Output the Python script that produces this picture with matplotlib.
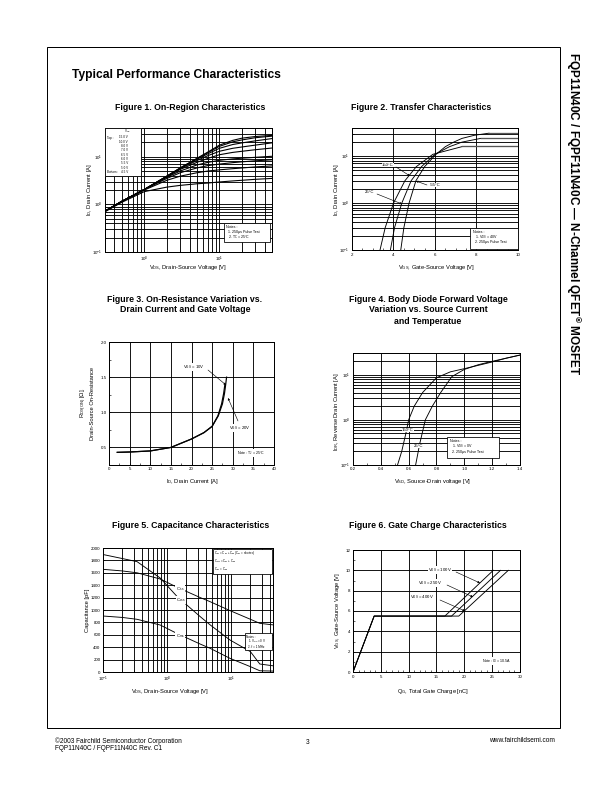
import matplotlib
matplotlib.use('Agg')
import matplotlib.pyplot as plt
import matplotlib.ticker as mt
from matplotlib.patches import Rectangle

plt.rcParams['font.family'] = ['Liberation Sans', 'DejaVu Sans']
plt.rcParams['mathtext.fontset'] = 'custom'
plt.rcParams['mathtext.rm'] = 'Liberation Sans'
plt.rcParams['mathtext.it'] = 'Liberation Sans'
plt.rcParams['mathtext.bf'] = 'Liberation Sans:bold'
plt.rcParams['mathtext.default'] = 'regular'

# ---------------- data ----------------
# Figure 1: On-region characteristics (ID vs VDS for several VGS)
f1_vds = [0.3, 0.5, 1, 2, 3, 5, 7, 10, 15, 20, 30, 50]
f1_vgs_labels = ['15.0 V', '10.0 V', '8.0 V', '7.0 V', '6.5 V', '6.0 V', '5.5 V', '5.0 V', '4.5 V']
f1_id_15v = [0.72, 1.15, 2.05, 3.9, 5.8, 9.2, 12.5, 17.5, 22.0, 24.5, 26.5, 28.0]
f1_id_10v = [0.72, 1.15, 2.05, 3.9, 5.8, 9.1, 12.2, 16.5, 20.5, 22.5, 25.0, 27.0]
f1_id_8v = [0.72, 1.15, 2.05, 3.9, 5.7, 8.8, 11.5, 15.0, 18.0, 19.5, 21.5, 24.0]
f1_id_7v = [0.72, 1.15, 2.05, 3.9, 5.6, 8.3, 10.5, 13.0, 15.0, 16.0, 17.5, 19.5]
f1_id_6v5 = [0.72, 1.15, 2.05, 3.8, 5.4, 7.6, 9.2, 11.0, 12.3, 13.0, 14.0, 15.2]
f1_id_6v = [0.72, 1.15, 2.05, 3.7, 5.0, 6.7, 7.6, 8.4, 9.0, 9.3, 9.7, 10.2]
f1_id_5v5 = [0.72, 1.15, 2.05, 3.5, 4.6, 5.8, 6.5, 7.0, 7.5, 7.8, 8.2, 8.6]
f1_id_5v = [0.72, 1.15, 2.0, 3.2, 3.9, 4.6, 5.0, 5.3, 5.6, 5.8, 6.1, 6.4]
f1_id_4v5 = [0.70, 1.10, 1.85, 2.3, 2.5, 2.7, 2.8, 2.95, 3.1, 3.2, 3.35, 3.5]

# Figure 2: Transfer characteristics (ID vs VGS)
f2_id = [0.1, 0.3, 1, 3, 6, 11, 16, 20, 24, 28, 31]
f2_vgs_150c = [3.35, 3.6, 4.0, 4.55, 5.1, 5.9, 7.3, None, None, None, None]
f2_vgs_25c = [3.85, 4.05, 4.4, 4.85, 5.35, 6.0, 6.7, 7.3, 8.2, None, None]
f2_vgs_m55c = [4.35, 4.5, 4.75, 5.08, 5.5, 6.05, 6.5, 6.9, 7.3, 7.9, 8.6]
f2_flat_150c = [16.5, 16.5]
f2_flat_25c = [24.5, 24.5]
f2_flat_m55c = [31.0, 31.0]
f2_flat_start = [7.3, 8.2, 8.6]

# Figure 3: On-resistance vs drain current
f3_id = [2, 5, 10, 15, 20, 23, 25, 26.5, 27.5, 28.0, 28.3, 28.5]
f3_rds_10v = [0.43, 0.435, 0.45, 0.5, 0.62, 0.71, 0.8, 0.95, 1.12, 1.27, 1.4, 1.5]
f3_id_20v = [2, 5, 10, 15, 20, 23, 25, 26.4, 27.3, 27.8, 28.1]
f3_rds_20v = [0.43, 0.435, 0.45, 0.5, 0.62, 0.71, 0.8, 0.95, 1.12, 1.27, 1.4]

# Figure 4: Body diode forward voltage
f4_vsd_150c = [0.52, 0.55, 0.58, 0.60, 0.64, 0.70, 0.80, 0.90, 1.00, 1.10, 1.20, 1.30, 1.40]
f4_isd_150c = [0.1, 0.2, 0.5, 1.0, 2.0, 4.0, 8.5, 11.5, 13.5, 16.0, 19.0, 23.0, 27.0]
f4_vsd_25c = [0.65, 0.68, 0.72, 0.77, 0.83, 0.91, 1.00, 1.10, 1.18, 1.30, 1.40]
f4_isd_25c = [0.1, 0.3, 1.0, 2.0, 4.0, 9.0, 13.0, 16.5, 19.0, 23.0, 27.0]

# Figure 5: Capacitance characteristics
f5_vds = [0.1, 0.2, 0.34, 0.78, 1.44, 3.3, 4.7, 9.6, 20, 28, 45]
f5_ciss = [1656, 1630, 1600, 1500, 1366, 1200, 1134, 990, 850, 785, 760]
f5_coss = [1895, 1830, 1780, 1516, 1215, 892, 760, 516, 328, 129, 100]
f5_crss = [903, 880, 850, 758, 620, 450, 382, 220, 86, 20, 15]

# Figure 6: Gate charge characteristics
f6_qg_100v = [0, 3.8, 16.5, 25.2]
f6_qg_250v = [0, 3.8, 17.7, 26.5]
f6_qg_400v = [0, 3.8, 19.0, 27.9]
f6_vgs = [0, 5.5, 5.5, 10.0]

# ---------------- layout helpers ----------------
W, H = 612, 792
fig = plt.figure(figsize=(W / 72, H / 72), dpi=72)

TITLE_FS = 8.8
LABEL_FS = 5.8
TICK_FS = 4.4
ANN_FS = 4.2
NOTE_FS = 3.6


def px_axes(box):
    x0, y0, x1, y1 = box
    return fig.add_axes([x0 / W, 1 - y1 / H, (x1 - x0) / W, (y1 - y0) / H])


def ftext(x, y, s, **kw):
    fig.text(x / W, 1 - y / H, s, **kw)


def pt(box, x, y):
    x0, y0, x1, y1 = box
    return ((x - x0) / (x1 - x0), (y1 - y) / (y1 - y0))


def style(ax):
    ax.tick_params(which='both', direction='in', labelsize=TICK_FS, length=2,
                   width=0.6, pad=2.5, top=False, right=False)
    for s in ax.spines.values():
        s.set_linewidth(1.0)
    ax.set_axisbelow(False)


def grid(ax, which_x, which_y):
    if which_x:
        ax.xaxis.grid(True, which=which_x, color='k', lw=0.9)
    if which_y:
        ax.yaxis.grid(True, which=which_y, color='k', lw=0.9)


def box_text(ax, box, rect, lines, fs=NOTE_FS):
    xl, yt, xr, yb = rect
    p0 = pt(box, xl, yb)
    p1 = pt(box, xr, yt)
    ax.add_patch(Rectangle(p0, p1[0] - p0[0], p1[1] - p0[1], transform=ax.transAxes,
                           facecolor='white', edgecolor='k', lw=0.8, zorder=5, clip_on=False))
    for item in lines:
        x, y, s = item[:3]
        ha = item[3] if len(item) > 3 else 'left'
        ax.text(*pt(box, x, y), s, transform=ax.transAxes, fontsize=fs, va='center',
                ha=ha, zorder=6)


def arrow(ax, box, frm, to):
    ax.annotate('', xy=pt(box, *to), xytext=pt(box, *frm), xycoords='axes fraction',
                textcoords='axes fraction',
                arrowprops=dict(arrowstyle='-|>', lw=0.6, color='k', mutation_scale=4,
                                shrinkA=0, shrinkB=0), zorder=7)


def label(ax, box, x, y, s, fs=ANN_FS, bg=True):
    t = ax.text(*pt(box, x, y), s, transform=ax.transAxes, fontsize=fs, va='center',
                ha='center', zorder=6)
    if bg:
        t.set_bbox(dict(facecolor='white', edgecolor='none', pad=0.3))


# ---------------- page decorations ----------------
fig.patches.append(Rectangle((47 / W, 1 - 728 / H), (560 - 47) / W, (728 - 47) / H,
                             transform=fig.transFigure, fill=False, edgecolor='k', lw=1.0))
ftext(72, 75, 'Typical Performance Characteristics', fontsize=12, fontweight='bold',
      va='center', ha='left')
ftext(573, 52, 'FQP11N40C / FQPF11N40C \u2014 N-Channel QFET$^{\u00ae}$ MOSFET',
      fontsize=11.7, fontweight='bold', rotation=-90, va='top', ha='center')
ftext(55, 741, '\u00a92003 Fairchild Semiconductor Corporation', fontsize=6.5, va='center')
ftext(55, 749, 'FQP11N40C / FQPF11N40C Rev. C1', fontsize=6.5, va='center')
ftext(308, 742, '3', fontsize=6.5, va='center', ha='center')
ftext(555, 741, 'www.fairchildsemi.com', fontsize=6.5, va='center', ha='right')

# ---------------- Figure 1 ----------------
b1 = (105, 128, 272, 252)
ax1 = px_axes(b1)
style(ax1)
ax1.set_xscale('log')
ax1.set_yscale('log')
ax1.set_xlim(0.3, 50)
ax1.set_ylim(0.1, 40)
ax1.xaxis.set_minor_formatter(mt.NullFormatter())
ax1.yaxis.set_minor_formatter(mt.NullFormatter())
grid(ax1, 'both', 'both')
for ys in [f1_id_15v, f1_id_10v, f1_id_8v, f1_id_7v, f1_id_6v5, f1_id_6v, f1_id_5v5,
           f1_id_5v, f1_id_4v5]:
    ax1.plot(f1_vds, ys, color='k', lw=1.1, zorder=3)
ftext(190, 108, 'Figure 1. On-Region Characteristics', fontsize=TITLE_FS, fontweight='bold',
      ha='center', va='center')
ftext(90, 190, 'I$_D$, Drain Current [A]', fontsize=LABEL_FS, rotation=90, ha='center', va='center')
ftext(188, 268, 'V$_{DS}$, Drain-Source Voltage [V]', fontsize=LABEL_FS, ha='center', va='center')
leg_lines = [(127, 131.5, 'V$_{GS}$', 'center')]
for i, s in enumerate(f1_vgs_labels):
    y = 137.5 + i * 4.3
    leg_lines.append((128, y, s, 'right'))
leg_lines.append((107, 137.5, 'Top :'))
leg_lines.append((107, 137.5 + 8 * 4.3, 'Bottom :'))
box_text(ax1, b1, (105, 128, 141, 176), leg_lines, fs=3.0)
box_text(ax1, b1, (224, 223, 270, 242),
         [(226.5, 227.5, 'Notes :'), (228, 232.5, '1. 250\u03bcs Pulse Test'),
          (228, 237.5, '2. T$_C$ = 25\u00b0C')])

# ---------------- Figure 2 ----------------
b2 = (352, 128, 518, 250)
ax2 = px_axes(b2)
style(ax2)
ax2.set_yscale('log')
ax2.set_xlim(2, 10)
ax2.set_ylim(0.1, 40)
ax2.set_xticks([2, 4, 6, 8, 10])
ax2.xaxis.set_minor_locator(mt.MultipleLocator(0.5))
ax2.yaxis.set_minor_formatter(mt.NullFormatter())
grid(ax2, 'major', 'both')
for vg, flat, x0 in [(f2_vgs_150c, f2_flat_150c, f2_flat_start[0]),
                     (f2_vgs_25c, f2_flat_25c, f2_flat_start[1]),
                     (f2_vgs_m55c, f2_flat_m55c, f2_flat_start[2])]:
    xs = [v for v in vg if v is not None]
    ys = [i for v, i in zip(vg, f2_id) if v is not None]
    ax2.plot(xs, ys, color='k', lw=0.9, zorder=3)
    ax2.plot([x0, 10], flat, color='#555555', lw=1.3, zorder=3)
ftext(421, 108, 'Figure 2. Transfer Characteristics', fontsize=TITLE_FS, fontweight='bold',
      ha='center', va='center')
ftext(336, 190, 'I$_D$, Drain Current [A]', fontsize=LABEL_FS, rotation=90, ha='center', va='center')
ftext(437, 268, 'V$_{GS}$, Gate-Source Voltage [V]', fontsize=LABEL_FS, ha='center', va='center')
label(ax2, b2, 388, 165, '150\u00b0C')
arrow(ax2, b2, (396, 167), (410, 176))
label(ax2, b2, 370, 192, '25\u00b0C')
arrow(ax2, b2, (377, 194), (402, 204))
label(ax2, b2, 435, 185, '-55\u00b0C')
arrow(ax2, b2, (427, 185), (416, 181))
box_text(ax2, b2, (470, 228, 518, 249),
         [(473, 232, 'Notes :'), (475, 237, '1. V$_{DS}$ = 40V'),
          (475, 242.5, '2. 250\u03bcs Pulse Test')])

# ---------------- Figure 3 ----------------
b3 = (109, 342, 274, 465)
ax3 = px_axes(b3)
style(ax3)
ax3.set_xlim(0, 40)
ax3.set_ylim(0.25, 2.0)
ax3.set_xticks(range(0, 45, 5))
ax3.set_yticks([0.5, 1.0, 1.5, 2.0])
ax3.yaxis.set_major_formatter(mt.FormatStrFormatter('%.1f'))
ax3.xaxis.set_minor_locator(mt.MultipleLocator(2.5))
ax3.yaxis.set_minor_locator(mt.MultipleLocator(0.25))
grid(ax3, 'major', 'major')
ax3.plot(f3_id, f3_rds_10v, color='k', lw=1.2, zorder=3)
ax3.plot(f3_id_20v, f3_rds_20v, color='k', lw=1.2, zorder=3)
ftext(185, 299, 'Figure 3. On-Resistance Variation vs.', fontsize=TITLE_FS, fontweight='bold',
      ha='center', va='center')
ftext(185, 310, 'Drain Current and Gate Voltage', fontsize=TITLE_FS, fontweight='bold',
      ha='center', va='center')
ftext(84, 403, 'R$_{DS(ON)}$ [\u03a9],', fontsize=LABEL_FS, rotation=90, ha='center', va='center')
ftext(92, 403, 'Drain-Source On-Resistance', fontsize=LABEL_FS, rotation=90, ha='center', va='center')
ftext(192, 482, 'I$_D$, Drain Current [A]', fontsize=LABEL_FS, ha='center', va='center')
label(ax3, b3, 194, 367, 'V$_{GS}$ = 10V')
arrow(ax3, b3, (208, 370), (226, 385))
label(ax3, b3, 240, 428, 'V$_{GS}$ = 20V')
arrow(ax3, b3, (238, 421), (228, 398))
label(ax3, b3, 251, 453, 'Note : T$_J$ = 25\u00b0C', fs=NOTE_FS)

# ---------------- Figure 4 ----------------
b4 = (353, 353, 520, 465)
ax4 = px_axes(b4)
style(ax4)
ax4.set_yscale('log')
ax4.set_xlim(0.2, 1.4)
ax4.set_ylim(0.1, 30)
ax4.set_xticks([0.2, 0.4, 0.6, 0.8, 1.0, 1.2, 1.4])
ax4.xaxis.set_major_formatter(mt.FormatStrFormatter('%.1f'))
ax4.xaxis.set_minor_locator(mt.MultipleLocator(0.1))
ax4.yaxis.set_minor_formatter(mt.NullFormatter())
grid(ax4, 'major', 'both')
ax4.plot(f4_vsd_150c, f4_isd_150c, color='k', lw=0.9, zorder=3)
ax4.plot(f4_vsd_25c, f4_isd_25c, color='k', lw=0.9, zorder=3)
ftext(428, 299, 'Figure 4. Body Diode Forward Voltage', fontsize=TITLE_FS, fontweight='bold',
      ha='center', va='center')
ftext(428, 310, 'Variation vs. Source Current', fontsize=TITLE_FS, fontweight='bold',
      ha='center', va='center')
ftext(428, 321, 'and Temperatue', fontsize=TITLE_FS, fontweight='bold', ha='center', va='center')
ftext(336, 412, 'I$_{DR}$, Reverse Drain Current [A]', fontsize=LABEL_FS, rotation=90,
      ha='center', va='center')
ftext(433, 482, 'V$_{SD}$, Source-Drain voltage [V]', fontsize=LABEL_FS, ha='center', va='center')
label(ax4, b4, 408, 430, '150\u00b0C')
label(ax4, b4, 419, 446, '25\u00b0C')
box_text(ax4, b4, (447, 437, 499, 458),
         [(450, 441, 'Notes :'), (452, 446.5, '1. V$_{GS}$ = 0V'),
          (452, 452, '2. 250\u03bcs Pulse Test')])

# ---------------- Figure 5 ----------------
b5 = (103, 548, 273, 672)
ax5 = px_axes(b5)
style(ax5)
ax5.set_xscale('log')
ax5.set_xlim(0.1, 45)
ax5.set_ylim(0, 2000)
ax5.set_yticks(range(0, 2200, 200))
ax5.xaxis.set_minor_formatter(mt.NullFormatter())
grid(ax5, 'both', 'major')
ax5.plot(f5_vds, f5_ciss, color='k', lw=0.9, zorder=3)
ax5.plot(f5_vds, f5_coss, color='k', lw=0.9, zorder=3)
ax5.plot(f5_vds, f5_crss, color='k', lw=0.9, zorder=3)
ftext(191, 525, 'Figure 5. Capacitance Characteristics', fontsize=TITLE_FS, fontweight='bold',
      ha='center', va='center')
ftext(87, 610, 'Capacitance [pF]', fontsize=LABEL_FS, rotation=90, ha='center', va='center')
ftext(170, 692, 'V$_{DS}$, Drain-Source Voltage [V]', fontsize=LABEL_FS, ha='center', va='center')
label(ax5, b5, 180, 589, 'C$_{iss}$')
label(ax5, b5, 181, 600, 'C$_{oss}$')
label(ax5, b5, 180, 636, 'C$_{rss}$')
box_text(ax5, b5, (213, 549, 272, 574),
         [(214.5, 553, 'C$_{iss}$ = C$_{gs}$ + C$_{gd}$ (C$_{ds}$ = shorted)'),
          (214.5, 561, 'C$_{oss}$ = C$_{ds}$ + C$_{gd}$'),
          (214.5, 569, 'C$_{rss}$ = C$_{gd}$')], fs=2.9)
box_text(ax5, b5, (245, 633, 272, 650),
         [(246.5, 636.5, 'Notes :'), (247.5, 641.5, '1. V$_{GS}$ = 0 V'),
          (247.5, 646.5, '2. f = 1 MHz')], fs=3.0)

# ---------------- Figure 6 ----------------
b6 = (353, 550, 520, 672)
ax6 = px_axes(b6)
style(ax6)
ax6.set_xlim(0, 30)
ax6.set_ylim(0, 12)
ax6.set_xticks(range(0, 35, 5))
ax6.set_yticks(range(0, 14, 2))
ax6.xaxis.set_minor_locator(mt.MultipleLocator(1))
ax6.yaxis.set_minor_locator(mt.MultipleLocator(1))
grid(ax6, 'major', 'major')
for q in [f6_qg_100v, f6_qg_250v, f6_qg_400v]:
    ax6.plot(q, f6_vgs, color='k', lw=0.9, zorder=3)
ftext(428, 525, 'Figure 6. Gate Charge Characteristics', fontsize=TITLE_FS, fontweight='bold',
      ha='center', va='center')
ftext(337, 610, 'V$_{GS}$, Gate-Source Voltage [V]', fontsize=LABEL_FS, rotation=90,
      ha='center', va='center')
ftext(433, 692, 'Q$_G$, Total Gate Charge [nC]', fontsize=LABEL_FS, ha='center', va='center')
label(ax6, b6, 440, 570, 'V$_{DS}$ = 100V')
arrow(ax6, b6, (456, 572), (480, 583))
label(ax6, b6, 430, 583, 'V$_{DS}$ = 250V')
arrow(ax6, b6, (447, 585), (473, 597))
label(ax6, b6, 422, 597, 'V$_{DS}$ = 400V')
arrow(ax6, b6, (440, 600), (465, 611))
label(ax6, b6, 497, 661, 'Note : I$_D$ = 10.5A', fs=NOTE_FS)

fig.savefig('out.png', dpi=72)
